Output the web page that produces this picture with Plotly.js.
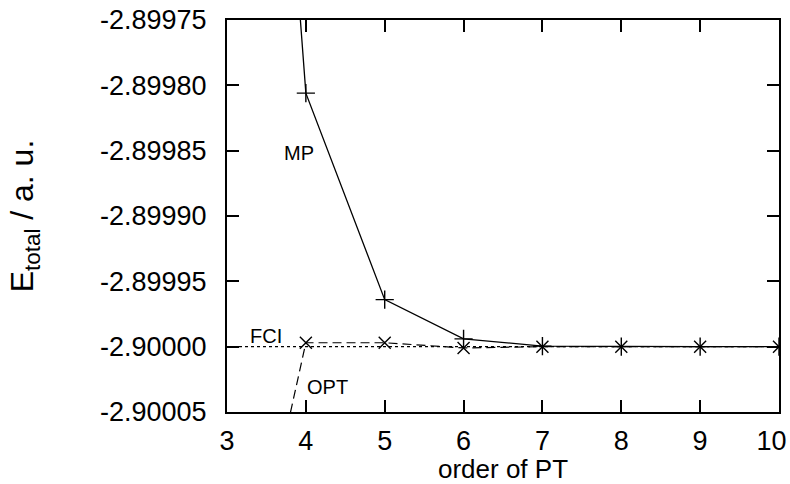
<!DOCTYPE html>
<html>
<head>
<meta charset="utf-8">
<script src="https://cdn.plot.ly/plotly-3.0.1.min.js"></script>
<style>html,body{margin:0;padding:0;background:#fff}#chart{width:790px;height:484px}</style>
</head>
<body>
<div id="chart"></div>
<script>
const order = [3, 4, 5, 6, 7, 8, 9, 10];
const mpEnergy = [-2.89900, -2.899806, -2.899964, -2.899994, -2.8999996, -2.900000, -2.900000, -2.900000];
const optEnergy = [-2.900270, -2.899997, -2.899997, -2.900001, -2.900000, -2.900000, -2.900000, -2.900000];
const fciX = [3, 10];
const fciEnergy = [-2.90000, -2.90000];
const yTickVals = [-2.89975, -2.89980, -2.89985, -2.89990, -2.89995, -2.90000, -2.90005];
const yTickText = ["-2.89975", "-2.89980", "-2.89985", "-2.89990", "-2.89995", "-2.90000", "-2.90005"];
const xTickVals = [3, 4, 5, 6, 7, 8, 9, 10];
const xTickText = ["3", "4", "5", "6", "7", "8", "9", "10"];

const font = "Liberation Sans";
// the last label sits inside the page edge, as in the reference
const xLabels = xTickText.map((t, i) => i === xTickText.length - 1 ? t + '\u00a0\u00a0' : t);
const traces = [
  {x: fciX, y: fciEnergy, mode: 'lines', line: {color: '#000', width: 1.2, dash: '3px,3px'}, hoverinfo: 'skip'},
  {x: order, y: optEnergy, mode: 'lines+markers', line: {color: '#000', width: 1.2, dash: '9px,5px'},
   marker: {symbol: 'x-thin-open', size: 12, line: {color: '#000', width: 1.4}}},
  {x: order, y: mpEnergy, mode: 'lines+markers', line: {color: '#000', width: 1.3},
   marker: {symbol: 'cross-thin-open', size: 13, line: {color: '#000', width: 1.4}}}
];
const axisCommon = {showgrid: false, zeroline: false, showline: true, linecolor: '#000', linewidth: 2,
  mirror: 'allticks', ticks: 'inside', ticklen: 12, tickwidth: 2, tickcolor: '#000',
  tickfont: {family: font, size: 27, color: '#000'}};
const layout = {
  width: 790, height: 484,
  margin: {l: 227, r: 11, t: 20, b: 72},
  paper_bgcolor: '#fff', plot_bgcolor: '#fff',
  showlegend: false,
  xaxis: Object.assign({}, axisCommon, {range: [3, 10], tickvals: xTickVals, ticktext: xLabels,
    ticklabeloverflow: 'allow', ticklabelstandoff: 4,
    title: {text: 'order of PT', font: {family: font, size: 26, color: '#000'}, standoff: 1}}),
  yaxis: Object.assign({}, axisCommon, {range: [-2.90005, -2.89975], tickvals: yTickVals, ticktext: yTickText,
    ticklabelstandoff: 13,
    title: {text: 'E<sub>total</sub> / a. u.', font: {family: font, size: 32, color: '#000'}, standoff: 57}}),
  annotations: [
    {x: 3.91, y: -2.8998518, text: 'MP', showarrow: false, font: {family: font, size: 20, color: '#000'}},
    {x: 3.49, y: -2.899992, text: 'FCI', showarrow: false, font: {family: font, size: 20, color: '#000'}},
    {x: 4.27, y: -2.900031, text: 'OPT', showarrow: false, font: {family: font, size: 20, color: '#000'}}
  ]
};
Plotly.newPlot('chart', traces, layout, {staticPlot: true});
</script>
</body>
</html>
